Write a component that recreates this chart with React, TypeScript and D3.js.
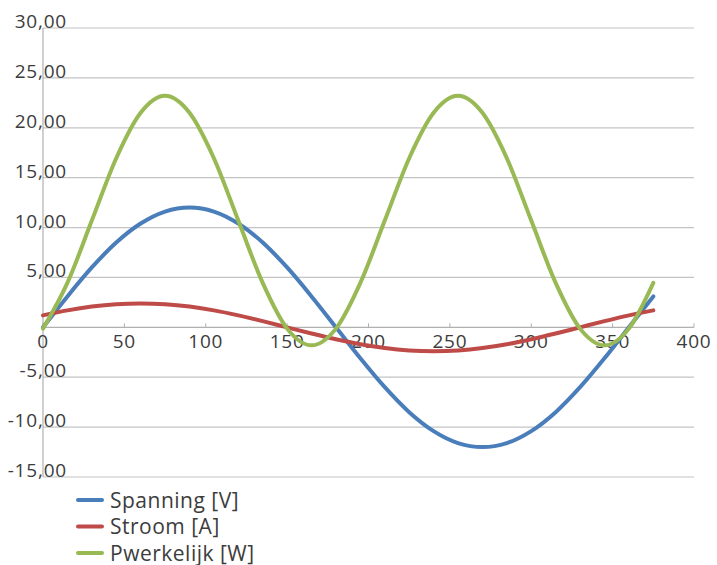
import React from 'react';
import * as d3 from 'd3';

// degrees, sampled every 15
const hoek = [0, 15, 30, 45, 60, 75, 90, 105, 120, 135, 150, 165, 180, 195, 210, 225, 240, 255, 270, 285, 300, 315, 330, 345, 360, 375];
const spanning = [0, 3.1, 6.0, 8.5, 10.4, 11.6, 12.0, 11.6, 10.4, 8.5, 6.0, 3.1, 0, -3.1, -6.0, -8.5, -10.4, -11.6, -12.0, -11.6, -10.4, -8.5, -6.0, -3.1, 0, 3.1];
const stroom = [1.2, 1.7, 2.08, 2.32, 2.4, 2.32, 2.08, 1.7, 1.2, 0.62, 0, -0.62, -1.2, -1.7, -2.08, -2.32, -2.4, -2.32, -2.08, -1.7, -1.2, -0.62, 0, 0.62, 1.2, 1.7];
const pwerkelijk = [-0.13, 4.45, 10.7, 16.95, 21.5, 23.2, 21.5, 16.95, 10.7, 4.45, -0.13, -1.8, -0.13, 4.45, 10.7, 16.95, 21.5, 23.2, 21.5, 16.95, 10.7, 4.45, -0.13, -1.8, -0.13, 4.45];

const seriesNames = ['Spanning [V]', 'Stroom [A]', 'Pwerkelijk [W]'];
const seriesColors = ['#4a7ebb', '#be4b48', '#98b954'];
const yTicks = [-15, -10, -5, 5, 10, 15, 20, 25, 30];
const xTicks = [0, 50, 100, 150, 200, 250, 300, 350, 400];

const nl = d3.formatLocale({ decimal: ',', thousands: '.', grouping: [3], currency: ['€', ''], minus: '-' });
const fmt = nl.format('.2f');

export default function App() {
  const width = 717;
  const height = 565;
  const x = d3.scaleLinear().domain([0, 400]).range([43, 694]);
  const y = d3.scaleLinear().domain([-15, 30]).range([477, 28]);
  const all = [spanning, stroom, pwerkelijk];

  const line = d3
    .line<number>()
    .x((_, i) => x(hoek[i]))
    .y((d) => y(d))
    .curve(d3.curveMonotoneX);

  const font = '"Open Sans", sans-serif';
  const textColor = '#3c3c3c';

  return (
    <div style={{ position: 'fixed', left: 0, top: 0 }}>
      <svg width={width} height={height} style={{ display: 'block', background: '#fff' }}>
        {/* gridlines */}
        {yTicks.map((t) => (
          <line key={t} x1={x(0)} x2={x(400)} y1={y(t)} y2={y(t)} stroke="#c4c4c4" strokeWidth={1.2} />
        ))}
        {/* y axis */}
        <line x1={x(0)} x2={x(0)} y1={y(30)} y2={y(-15)} stroke="#b0b0b0" strokeWidth={1.2} />
        {/* x axis at zero */}
        <line x1={x(0)} x2={x(400)} y1={y(0)} y2={y(0)} stroke="#b0b0b0" strokeWidth={1.2} />
        {xTicks.map((t) => (
          <line key={t} x1={x(t)} x2={x(t)} y1={y(0) - 4} y2={y(0)} stroke="#b0b0b0" strokeWidth={1} />
        ))}

        {/* y labels */}
        {yTicks.map((t) => (
          <text
            key={t}
            x={67}
            y={y(t)}
            textAnchor="end"
            fontFamily={font}
            fontSize={19}
            letterSpacing={0.8}
            fill={textColor}
          >
            {fmt(t)}
          </text>
        ))}
        {/* x labels */}
        {xTicks.map((t) => (
          <text
            key={t}
            x={x(t)}
            y={y(0) + 21}
            textAnchor="middle"
            fontFamily={font}
            fontSize={19}
            letterSpacing={0.8}
            fill={textColor}
          >
            {t}
          </text>
        ))}

        {/* series */}
        {all.map((s, i) => (
          <path
            key={seriesNames[i]}
            d={line(s) || ''}
            fill="none"
            stroke={seriesColors[i]}
            strokeWidth={4}
            strokeLinecap="round"
            strokeLinejoin="round"
          />
        ))}

        {/* legend */}
        {seriesNames.map((n, i) => (
          <g key={n} transform={`translate(78,${500 + i * 26.5})`}>
            <line x1={0} x2={24} y1={0} y2={0} stroke={seriesColors[i]} strokeWidth={4} strokeLinecap="round" />
            <text x={32} y={7.5} fontFamily={font} fontSize={21} letterSpacing={0.5} fill={textColor}>
              {n}
            </text>
          </g>
        ))}
      </svg>
    </div>
  );
}
